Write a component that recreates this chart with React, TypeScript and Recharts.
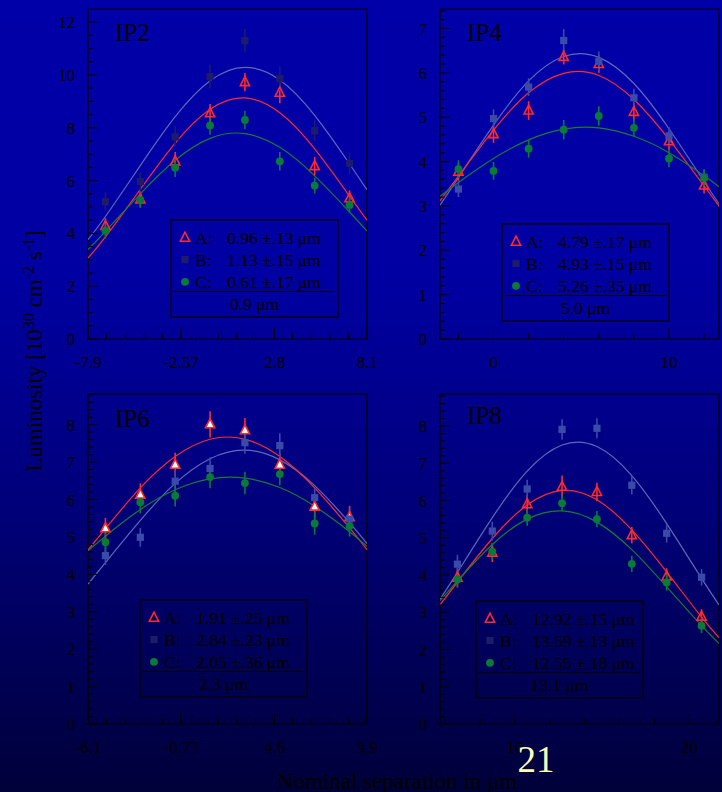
import { ComposedChart, Line, Scatter, XAxis, YAxis, ErrorBar, ReferenceArea } from 'recharts';

const FONT = '"Liberation Serif", "Times New Roman", serif';
const RED = '#ff2a2a';
const B_DARK = '#1c1c6a';
const B_PT = '#3a4aa8';
const B_LINE = '#6068b8';
const GREEN = '#0a7a38';
const GREEN_LINE = '#1a7a30';

// ---- IP2 ----
const IP2_X = [-6.9, -4.9, -2.9, -0.9, 1.1, 3.1, 5.1, 7.1];
const IP2_A = [4.28, 5.29, 6.73, 8.55, 9.73, 9.33, 6.55, 5.33];
const IP2_A_ERR = [0.3, 0.3, 0.35, 0.35, 0.35, 0.4, 0.35, 0.3];
const IP2_B = [5.2, 5.96, 7.66, 9.94, 11.3, 9.86, 7.89, 6.65];
const IP2_B_ERR = [0.35, 0.35, 0.4, 0.45, 0.45, 0.45, 0.4, 0.4];
const IP2_C = [4.1, 5.27, 6.49, 8.09, 8.3, 6.73, 5.81, 5.08];
const IP2_C_ERR = [0.3, 0.3, 0.35, 0.35, 0.35, 0.35, 0.3, 0.3];
const IP2_FIT_X = [-7.9, -6.9, -4.9, -2.9, -0.9, 1.1, 3.1, 5.1, 7.1, 8.1];
const IP2_FIT_A = [3.07, 3.87, 5.67, 7.42, 8.7, 9.13, 8.57, 7.2, 5.41, 4.5];
const IP2_FIT_B = [3.76, 4.64, 6.57, 8.42, 9.78, 10.29, 9.81, 8.47, 6.63, 5.65];
const IP2_FIT_C = [3.39, 4.08, 5.5, 6.77, 7.6, 7.78, 7.26, 6.18, 4.81, 4.09];
const IP2_XTICKS = [-7.9, -2.57, 2.8, 8.1];
const IP2_LEGEND = ['0.96 ±.13 μm', '1.13 ±.15 μm', '0.61 ±.17 μm', '0.9 μm'];

// ---- IP4 ----
const IP4_X = [-2, 0, 2, 4, 6, 8, 10, 12];
const IP4_A = [3.77, 4.62, 5.15, 6.36, 6.2, 5.12, 4.46, 3.46];
const IP4_A_ERR = [0.2, 0.2, 0.21, 0.17, 0.2, 0.2, 0.2, 0.18];
const IP4_B = [3.38, 4.97, 5.68, 6.73, 6.26, 5.44, 4.58, 3.65];
const IP4_B_ERR = [0.18, 0.21, 0.2, 0.26, 0.22, 0.2, 0.2, 0.18];
const IP4_C = [3.83, 3.79, 4.29, 4.72, 5.03, 4.76, 4.07, 3.63];
const IP4_C_ERR = [0.2, 0.2, 0.2, 0.22, 0.22, 0.2, 0.2, 0.18];
const IP4_FIT_X = [-3.1, -2, 0, 2, 4, 6, 8, 10, 12, 12.9];
const IP4_FIT_A = [3.09, 3.67, 4.71, 5.55, 5.99, 5.94, 5.4, 4.5, 3.45, 2.97];
const IP4_FIT_B = [2.99, 3.64, 4.82, 5.82, 6.37, 6.35, 5.76, 4.74, 3.55, 3.02];
const IP4_FIT_C = [3.2, 3.53, 4.07, 4.49, 4.73, 4.76, 4.57, 4.2, 3.68, 3.42];
const IP4_XTICKS = [0, 10];
const IP4_LEGEND = ['4.79 ±.17 μm', '4.93 ±.15 μm', '5.26 ±.35 μm', '5.0 μm'];

// ---- IP6 ----
const IP6_X = [-5.1, -3.1, -1.1, 0.9, 2.9, 4.9, 6.9, 8.9];
const IP6_A = [5.23, 6.13, 6.93, 8.01, 7.85, 6.93, 5.81, 5.53];
const IP6_A_ERR = [0.28, 0.3, 0.32, 0.35, 0.33, 0.3, 0.3, 0.3];
const IP6_B = [4.5, 4.99, 6.49, 6.83, 7.52, 7.44, 6.05, 5.48];
const IP6_B_ERR = [0.25, 0.25, 0.3, 0.3, 0.3, 0.33, 0.25, 0.25];
const IP6_C = [4.86, 5.93, 6.1, 6.6, 6.44, 6.68, 5.36, 5.29];
const IP6_C_ERR = [0.3, 0.3, 0.29, 0.3, 0.3, 0.3, 0.3, 0.28];
const IP6_FIT_X = [-6.1, -5.1, -3.1, -1.1, 0.9, 2.9, 4.9, 6.9, 8.9, 9.9];
const IP6_FIT_A = [4.65, 5.22, 6.31, 7.15, 7.61, 7.61, 7.15, 6.31, 5.24, 4.66];
const IP6_FIT_B = [3.74, 4.31, 5.44, 6.43, 7.09, 7.32, 7.06, 6.37, 5.38, 4.82];
const IP6_FIT_C = [4.63, 5.02, 5.73, 6.26, 6.55, 6.57, 6.32, 5.82, 5.14, 4.75];
const IP6_XTICKS = [-6.1, -0.77, 4.6, 9.9];
const IP6_LEGEND = ['1.91 ±.25 μm', '2.84 ±.23 μm', '2.05 ±.36 μm', '2.3 μm'];

// ---- IP8 ----
const IP8_X = [6.7, 8.7, 10.7, 12.7, 14.7, 16.7, 18.7, 20.7];
const IP8_A = [3.93, 4.6, 5.9, 6.37, 6.23, 5.07, 3.96, 2.88];
const IP8_A_ERR = [0.25, 0.25, 0.25, 0.3, 0.25, 0.22, 0.22, 0.2];
const IP8_B = [4.29, 5.18, 6.31, 7.91, 7.94, 6.41, 5.12, 3.94];
const IP8_B_ERR = [0.25, 0.25, 0.25, 0.27, 0.27, 0.25, 0.25, 0.22];
const IP8_C = [3.88, 4.63, 5.54, 5.93, 5.5, 4.3, 3.8, 2.64];
const IP8_C_ERR = [0.22, 0.22, 0.22, 0.22, 0.22, 0.22, 0.22, 0.2];
const IP8_FIT_X = [5.7, 6.7, 8.7, 10.7, 12.7, 14.7, 16.7, 18.7, 20.7, 21.7];
const IP8_FIT_A = [3.2, 3.81, 4.98, 5.88, 6.27, 6.02, 5.21, 4.08, 2.87, 2.32];
const IP8_FIT_B = [3.35, 4.07, 5.54, 6.79, 7.49, 7.45, 6.67, 5.38, 3.91, 3.2];
const IP8_FIT_C = [3.31, 3.84, 4.82, 5.5, 5.72, 5.42, 4.68, 3.68, 2.64, 2.16];
const IP8_XTICKS = [10, 20];
const IP8_LEGEND = ['12.92 ±.15 μm', '13.59 ±.13 μm', '12.55 ±.18 μm', '13.1 μm'];

const PLOT_W = 279;
const PLOT_H = 330;

const steps = (from: number, to: number, step: number) => {
  const out: number[] = [];
  for (let v = from; v <= to + 1e-6; v += step) out.push(Math.round(v * 1000) / 1000);
  return out;
};
const pts = (xs: number[], ys: number[], es: number[]) => xs.map((x, i) => ({ x, y: ys[i], e: es[i] }));
const fit = (xs: number[], ys: number[]) => xs.map((x, i) => ({ x, y: ys[i] }));
const isIn = (v: number, list: number[]) => list.some((m) => Math.abs(m - v) < 1e-3);

type Panel = {
  name: string;
  left: number;
  top: number;
  xDomain: [number, number];
  yMax: number;
  xMajor: number[];
  xMinor: number[];
  yMajor: number[];
  yMinor: number[];
  a: { x: number; y: number; e: number }[];
  b: { x: number; y: number; e: number }[];
  c: { x: number; y: number; e: number }[];
  fa: { x: number; y: number }[];
  fb: { x: number; y: number }[];
  fc: { x: number; y: number }[];
  bColor: string;
  triFill: string;
  legend: string[];
  legendPos: { x: number; y: number };
  titleY: number;
};

const PANELS: Panel[] = [
  {
    name: 'IP2', left: 88, top: 9, xDomain: [-7.9, 8.1], yMax: 12.5,
    xMajor: IP2_XTICKS, xMinor: steps(-7.9, 8.1, 16 / 15),
    yMajor: steps(0, 12, 2), yMinor: steps(0, 12.4, 0.5),
    a: pts(IP2_X, IP2_A, IP2_A_ERR), b: pts(IP2_X, IP2_B, IP2_B_ERR), c: pts(IP2_X, IP2_C, IP2_C_ERR),
    fa: fit(IP2_FIT_X, IP2_FIT_A), fb: fit(IP2_FIT_X, IP2_FIT_B), fc: fit(IP2_FIT_X, IP2_FIT_C),
    bColor: B_DARK, triFill: 'none', legend: IP2_LEGEND, legendPos: { x: 171, y: 220 }, titleY: 41,
  },
  {
    name: 'IP4', left: 440, top: 9, xDomain: [-3.05, 12.85], yMax: 7.44,
    xMajor: IP4_XTICKS, xMinor: [-2, 2, 4, 6, 8, 12],
    yMajor: steps(0, 7, 1), yMinor: steps(0, 7.4, 0.2),
    a: pts(IP4_X, IP4_A, IP4_A_ERR), b: pts(IP4_X, IP4_B, IP4_B_ERR), c: pts(IP4_X, IP4_C, IP4_C_ERR),
    fa: fit(IP4_FIT_X, IP4_FIT_A), fb: fit(IP4_FIT_X, IP4_FIT_B), fc: fit(IP4_FIT_X, IP4_FIT_C),
    bColor: B_PT, triFill: 'none', legend: IP4_LEGEND, legendPos: { x: 502, y: 224 }, titleY: 41,
  },
  {
    name: 'IP6', left: 88, top: 394, xDomain: [-6.1, 9.9], yMax: 8.82,
    xMajor: IP6_XTICKS, xMinor: steps(-6.1, 9.9, 16 / 15),
    yMajor: steps(0, 8, 1), yMinor: steps(0, 8.8, 0.2),
    a: pts(IP6_X, IP6_A, IP6_A_ERR), b: pts(IP6_X, IP6_B, IP6_B_ERR), c: pts(IP6_X, IP6_C, IP6_C_ERR),
    fa: fit(IP6_FIT_X, IP6_FIT_A), fb: fit(IP6_FIT_X, IP6_FIT_B), fc: fit(IP6_FIT_X, IP6_FIT_C),
    bColor: B_PT, triFill: '#ffffff', legend: IP6_LEGEND, legendPos: { x: 140, y: 600 }, titleY: 427,
  },
  {
    name: 'IP8', left: 440, top: 394, xDomain: [5.7, 21.7], yMax: 8.86,
    xMajor: IP8_XTICKS, xMinor: [6, 8, 12, 14, 16, 18],
    yMajor: steps(0, 8, 1), yMinor: steps(0, 8.8, 0.2),
    a: pts(IP8_X, IP8_A, IP8_A_ERR), b: pts(IP8_X, IP8_B, IP8_B_ERR), c: pts(IP8_X, IP8_C, IP8_C_ERR),
    fa: fit(IP8_FIT_X, IP8_FIT_A), fb: fit(IP8_FIT_X, IP8_FIT_B), fc: fit(IP8_FIT_X, IP8_FIT_C),
    bColor: B_PT, triFill: 'none', legend: IP8_LEGEND, legendPos: { x: 476, y: 601 }, titleY: 424,
  },
];

const Tri = ({ cx, cy, fill }: { cx: number; cy: number; fill: string }) => (
  <polygon
    points={`${cx},${cy - 5.5} ${cx - 4.6},${cy + 3.5} ${cx + 4.6},${cy + 3.5}`}
    fill={fill}
    stroke={RED}
    strokeWidth={1.6}
  />
);
const Sq = ({ cx, cy, fill }: { cx: number; cy: number; fill: string }) => (
  <rect x={cx - 3.6} y={cy - 3.6} width={7.2} height={7.2} fill={fill} />
);
const Dot = ({ cx, cy, fill }: { cx: number; cy: number; fill: string }) => (
  <circle cx={cx} cy={cy} r={3.9} fill={fill} />
);

function XTick(props: any) {
  const { x, y, payload, majors } = props;
  const major = isIn(payload.value, majors);
  return (
    <g>
      <line x1={x} x2={x} y1={y} y2={y - (major ? 11 : 5.5)} stroke="#000" strokeWidth={1} />
      {major && (
        <text x={x} y={y + 29} textAnchor="middle" fontFamily={FONT} fontSize={17} fill="#000">
          {String(payload.value)}
        </text>
      )}
    </g>
  );
}

function YTick(props: any) {
  const { x, y, payload, majors } = props;
  const major = isIn(payload.value, majors);
  return (
    <g>
      <line x1={x} x2={x + (major ? 10 : 5)} y1={y} y2={y} stroke="#000" strokeWidth={1} />
      {major && (
        <text x={x - 13} y={y + 6} textAnchor="end" fontFamily={FONT} fontSize={17} fill="#000">
          {String(Math.round(payload.value))}
        </text>
      )}
    </g>
  );
}

function PanelChart({ p }: { p: Panel }) {
  const ML = 60;
  const MT = 10;
  const XH = 44;
  const xTicks = [...p.xMajor, ...p.xMinor.filter((v) => !isIn(v, p.xMajor))].sort((a, b) => a - b);
  const yTicks = [...p.yMajor, ...p.yMinor.filter((v) => !isIn(v, p.yMajor))].sort((a, b) => a - b);
  return (
    <div style={{ position: 'absolute', left: p.left - ML, top: p.top - MT }}>
      <ComposedChart
        width={ML + PLOT_W + 14}
        height={MT + PLOT_H + XH}
        margin={{ top: MT, right: 14, bottom: 0, left: 0 }}
      >
        <XAxis
          type="number"
          dataKey="x"
          domain={p.xDomain}
          ticks={xTicks}
          interval={0}
          allowDataOverflow
          axisLine={false}
          tickLine={false}
          tickSize={0}
          tickMargin={0}
          height={XH}
          tick={(t: any) => <XTick {...t} majors={p.xMajor} />}
        />
        <YAxis
          type="number"
          domain={[0, p.yMax]}
          ticks={yTicks}
          interval={0}
          allowDataOverflow
          axisLine={false}
          tickLine={false}
          tickSize={0}
          tickMargin={0}
          width={ML}
          tick={(t: any) => <YTick {...t} majors={p.yMajor} />}
        />
        <ReferenceArea
          x1={p.xDomain[0]}
          x2={p.xDomain[1]}
          y1={0}
          y2={p.yMax}
          fill="none"
          stroke="#000"
          strokeWidth={1.2}
        />
        <Line data={p.fb} dataKey="y" type="natural" stroke={B_LINE} strokeWidth={1.2} dot={false} isAnimationActive={false} />
        <Line data={p.fa} dataKey="y" type="natural" stroke={RED} strokeWidth={1.2} dot={false} isAnimationActive={false} />
        <Line data={p.fc} dataKey="y" type="natural" stroke={GREEN_LINE} strokeWidth={1.2} dot={false} isAnimationActive={false} />
        <Scatter data={p.a} dataKey="y" isAnimationActive={false} shape={(s: any) => <Tri cx={s.cx} cy={s.cy} fill={p.triFill} />}>
          <ErrorBar dataKey="e" direction="y" width={0} stroke={RED} strokeWidth={1.6} />
        </Scatter>
        <Scatter data={p.b} dataKey="y" isAnimationActive={false} shape={(s: any) => <Sq cx={s.cx} cy={s.cy} fill={p.bColor} />}>
          <ErrorBar dataKey="e" direction="y" width={0} stroke={p.bColor} strokeWidth={1.6} />
        </Scatter>
        <Scatter data={p.c} dataKey="y" isAnimationActive={false} shape={(s: any) => <Dot cx={s.cx} cy={s.cy} fill={GREEN} />}>
          <ErrorBar dataKey="e" direction="y" width={0} stroke={GREEN} strokeWidth={1.6} />
        </Scatter>
      </ComposedChart>
    </div>
  );
}

function LegendBox({ p }: { p: Panel }) {
  const { x, y } = p.legendPos;
  const W = 167;
  const H = 97;
  const rows = [
    { key: 'A:', yc: 17.7 },
    { key: 'B:', yc: 39.5 },
    { key: 'C:', yc: 61.8 },
  ];
  return (
    <g fontFamily={FONT} fontSize={17.5} fill="#000">
      <rect x={x} y={y} width={W} height={H} fill="none" stroke="#000" strokeWidth={1.2} />
      {rows.map((r, i) => {
        const cy = y + r.yc;
        const mx = x + 14;
        return (
          <g key={r.key}>
            {i === 0 && <Tri cx={mx} cy={cy} fill="none" />}
            {i === 1 && <Sq cx={mx} cy={cy} fill={B_DARK} />}
            {i === 2 && <Dot cx={mx} cy={cy} fill={GREEN} />}
            <text x={x + 24} y={cy + 6}>{r.key}</text>
            <text x={x + 56} y={cy + 6}>{p.legend[i]}</text>
          </g>
        );
      })}
      <line x1={x + 3} x2={x + W - 4} y1={y + 71.5} y2={y + 71.5} stroke="#000" strokeWidth={1.2} />
      <text x={x + W / 2} y={y + 89.5} textAnchor="middle">{p.legend[3]}</text>
    </g>
  );
}

export default function App() {
  return (
    <div
      style={{
        position: 'fixed',
        left: 0,
        top: 0,
        width: 722,
        height: 792,
        overflow: 'hidden',
        background: 'linear-gradient(180deg, #0000a8 0%, #0000a2 35%, #000078 65%, #00003a 100%)',
      }}
    >
      {PANELS.map((p) => (
        <PanelChart key={p.name} p={p} />
      ))}
      <svg width={722} height={792} style={{ position: 'absolute', left: 0, top: 0, pointerEvents: 'none' }}>
        {PANELS.map((p) => (
          <g key={p.name}>
            <text x={p.left + 27} y={p.titleY} fontFamily={FONT} fontSize={25} fill="#000">{p.name}</text>
            <LegendBox p={p} />
          </g>
        ))}
        <text
          x={42}
          y={351}
          transform="rotate(-90 42 351)"
          textAnchor="middle"
          fontFamily={FONT}
          fontSize={23}
          fill="#000"
        >
          Luminosity [10<tspan dy={-8} fontSize={16}>30</tspan>
          <tspan dy={8}> cm</tspan>
          <tspan dy={-8} fontSize={16}>-2</tspan>
          <tspan dy={8}> s</tspan>
          <tspan dy={-8} fontSize={16}>-1</tspan>
          <tspan dy={8}>]</tspan>
        </text>
        <text x={397} y={789} textAnchor="middle" fontFamily={FONT} fontSize={23} fill="#000">
          Nominal separation in μm
        </text>
        <text x={536} y={772} textAnchor="middle" fontFamily={FONT} fontSize={37} fill="#ffffb4">
          21
        </text>
      </svg>
    </div>
  );
}
